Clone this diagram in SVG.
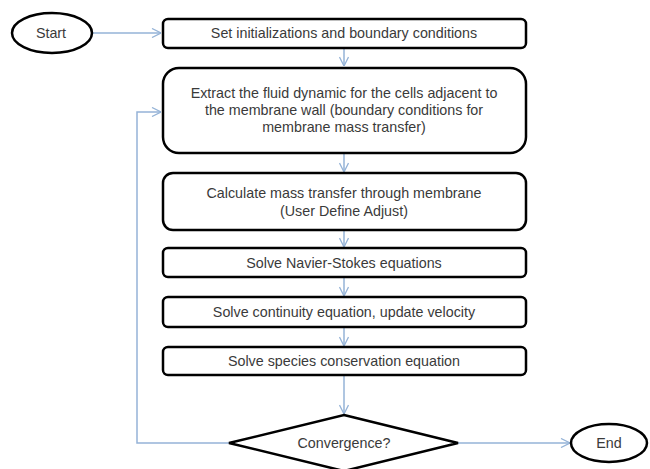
<svg xmlns="http://www.w3.org/2000/svg" width="650" height="469" viewBox="0 0 650 469">
<style>
.n{fill:#fff;stroke:#000;stroke-width:2.5}
.t{font-family:"Liberation Sans",Arial,sans-serif;font-size:14.3px;fill:#3a3a3a;text-anchor:middle;dominant-baseline:central}
.c{fill:none;stroke:#95b3d7;stroke-width:1.5}
</style>
<defs>
<marker id="a" viewBox="0 0 10 10" refX="10" refY="5" markerWidth="10" markerHeight="10" markerUnits="userSpaceOnUse" orient="auto">
<path d="M1,0.5 L10,5 L1,9.5" fill="none" stroke="#95b3d7" stroke-width="1.3"/>
</marker>
</defs>
<rect width="650" height="469" fill="#fff"/>
<g id="connectors">
<path class="c" d="M92,33 H161" marker-end="url(#a)"/>
<path class="c" d="M344,48 V66" marker-end="url(#a)"/>
<path class="c" d="M344,153 V172" marker-end="url(#a)"/>
<path class="c" d="M344,230 V247" marker-end="url(#a)"/>
<path class="c" d="M344,277 V296" marker-end="url(#a)"/>
<path class="c" d="M344,327 V346" marker-end="url(#a)"/>
<path class="c" d="M344,375 V414" marker-end="url(#a)"/>
<path class="c" d="M229,443 H137 V112 H161" marker-end="url(#a)"/>
<path class="c" d="M458,443 H570" marker-end="url(#a)"/>
</g>
<g id="start"><ellipse class="n" cx="52" cy="33" rx="40" ry="20"/><text class="t" x="51" y="33">Start</text></g>
<g id="init"><rect class="n" x="163" y="19" width="363" height="29" rx="5"/><text class="t" x="344" y="33">Set initializations and boundary conditions</text></g>
<g id="extract"><rect class="n" x="163" y="68" width="363" height="85" rx="16"/>
<text class="t" x="344" y="93">Extract the fluid dynamic for the cells adjacent to</text>
<text class="t" x="344" y="110">the membrane wall (boundary conditions for</text>
<text class="t" x="344" y="127">membrane mass transfer)</text></g>
<g id="calc"><rect class="n" x="163" y="173" width="363" height="57" rx="10"/>
<text class="t" x="344" y="193">Calculate mass transfer through membrane</text>
<text class="t" x="344" y="211">(User Define Adjust)</text></g>
<g id="navier"><rect class="n" x="163" y="248" width="363" height="29" rx="5"/><text class="t" x="344" y="263">Solve Navier-Stokes equations</text></g>
<g id="continuity"><rect class="n" x="163" y="297" width="363" height="30" rx="5"/><text class="t" x="344" y="312">Solve continuity equation, update velocity</text></g>
<g id="species"><rect class="n" x="163" y="347" width="363" height="28" rx="5"/><text class="t" x="344" y="361">Solve species conservation equation</text></g>
<g id="convergence"><path class="n" d="M344,415 L458,443 L344,471 L229,443 Z"/><text class="t" x="344" y="443">Convergence?</text></g>
<g id="end"><ellipse class="n" cx="609" cy="443" rx="38" ry="19"/><text class="t" x="609" y="443">End</text></g>
</svg>
